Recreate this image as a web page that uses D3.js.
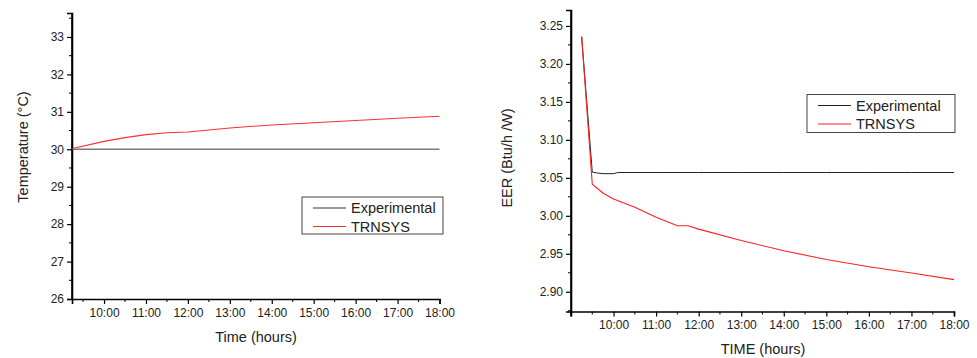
<!DOCTYPE html>
<html>
<head>
<meta charset="utf-8">
<script src="https://cdn.jsdelivr.net/npm/d3@7"></script>
<style>
  body { margin: 0; background: #fff; }
  svg text { font-family: "Liberation Sans", Arial, sans-serif; fill: #222; }
</style>
</head>
<body>
<svg id="chart" width="977" height="358"></svg>
<script>
// ---- left chart: temperature ----
const tempTimes = [9.25, 10, 10.5, 11, 11.5, 12, 13, 14, 15, 16, 17, 18];
const tempExperimental = [30, 30, 30, 30, 30, 30, 30, 30, 30, 30, 30, 30];
const tempTrnsys = [30.02, 30.21, 30.31, 30.39, 30.44, 30.46, 30.57, 30.65, 30.71, 30.77, 30.83, 30.88];
const tempTicks = [26, 27, 28, 29, 30, 31, 32, 33];

// ---- right chart: EER ----
const eerTimesExp = [9.25, 9.5, 9.6, 9.75, 10, 10.1, 11, 12, 13, 14, 15, 16, 17, 18];
const eerExperimental = [3.236, 3.0575, 3.0565, 3.0555, 3.0555, 3.057, 3.057, 3.057, 3.057, 3.057, 3.057, 3.057, 3.057, 3.057];
const eerTimesTrn = [9.25, 9.5, 9.75, 10, 10.5, 11, 11.5, 11.75, 12, 13, 14, 15, 16, 17, 18];
const eerTrnsys = [3.236, 3.0417, 3.030, 3.022, 3.0114, 2.998, 2.987, 2.987, 2.9825, 2.9675, 2.954, 2.9425, 2.933, 2.9246, 2.916];
const eerTicks = [2.90, 2.95, 3.00, 3.05, 3.10, 3.15, 3.20, 3.25];

const hourTicks = [10, 11, 12, 13, 14, 15, 16, 17, 18];
const seriesNames = ["Experimental", "TRNSYS"];

const svg = d3.select("#chart");

function fmtHour(h) {
  return String(Math.round(h)).padStart(2, "0") + ":00";
}

function drawPanel(opt) {
  const g = svg.append("g");
  const x = d3.scaleLinear().domain(opt.xDomain).range([opt.left, opt.right]);
  const y = d3.scaleLinear().domain(opt.yDomain).range([opt.bottom, opt.top]);

  // minor ticks
  const xMinor = d3.range(Math.ceil(opt.xDomain[0] * 2) / 2, opt.xDomain[1] + 0.01, 0.5)
    .filter(v => !hourTicks.includes(v));
  g.append("g").selectAll("line").data(xMinor).enter().append("line")
    .attr("x1", d => x(d)).attr("x2", d => x(d))
    .attr("y1", opt.bottom).attr("y2", opt.bottom + 3)
    .attr("stroke", "#000").attr("stroke-width", 1);
  g.append("g").selectAll("line").data(opt.yMinor).enter().append("line")
    .attr("x1", opt.left).attr("x2", opt.left - 3)
    .attr("y1", d => y(d)).attr("y2", d => y(d))
    .attr("stroke", "#000").attr("stroke-width", 1);

  const xAxis = g.append("g")
    .attr("transform", `translate(0,${opt.bottom})`)
    .call(d3.axisBottom(x).tickValues(hourTicks).tickFormat(fmtHour).tickSizeOuter(0).tickSize(5).tickPadding(4));
  const yAxis = g.append("g")
    .attr("transform", `translate(${opt.left},0)`)
    .call(d3.axisLeft(y).tickValues(opt.yTicks).tickFormat(opt.yFormat).tickSizeOuter(0).tickSize(5).tickPadding(3));

  [xAxis, yAxis].forEach(a => {
    a.select(".domain").attr("stroke", "#000").attr("stroke-width", 1.6);
    a.selectAll(".tick line").attr("stroke", "#000").attr("stroke-width", 1.2);
    a.selectAll(".tick text").style("font-size", "12px").attr("fill", "#222");
  });
  // extend y domain line down to meet x axis
  g.append("line").attr("x1", opt.left).attr("x2", opt.left)
    .attr("y1", opt.top).attr("y2", opt.bottom + (opt.xStartTick ? 5 : 0))
    .attr("stroke", "#000").attr("stroke-width", 1.6);

  const line = d3.line().x(d => x(d[0])).y(d => y(d[1]));
  opt.series.forEach(s => {
    g.append("path")
      .datum(d3.zip(s.times, s.values))
      .attr("d", line)
      .attr("fill", "none")
      .attr("stroke", s.color)
      .attr("stroke-width", s.width);
  });

  // axis titles
  g.append("text")
    .attr("x", opt.xTitleX).attr("y", opt.xTitleY)
    .attr("text-anchor", "middle")
    .style("font-size", "14.5px")
    .text(opt.xTitle);
  g.append("text")
    .attr("transform", `translate(${opt.yTitleX},${opt.yTitleY}) rotate(-90)`)
    .attr("text-anchor", "middle")
    .style("font-size", "14.5px")
    .text(opt.yTitle);

  // legend
  const lg = g.append("g");
  lg.append("rect")
    .attr("x", opt.legend.x).attr("y", opt.legend.y)
    .attr("width", opt.legend.w).attr("height", opt.legend.h)
    .attr("fill", "#fff").attr("stroke", "#444").attr("stroke-width", 1);
  opt.series.forEach((s, i) => {
    const ry = opt.legend.y + 11 + i * 18.5;
    lg.append("line")
      .attr("x1", opt.legend.x + 11).attr("x2", opt.legend.x + 44)
      .attr("y1", ry).attr("y2", ry)
      .attr("stroke", s.color).attr("stroke-width", s.width);
    lg.append("text")
      .attr("x", opt.legend.x + 49).attr("y", ry + 5)
      .style("font-size", "14.5px")
      .text(seriesNames[i]);
  });
}

drawPanel({
  left: 72, right: 439.5, top: 13, bottom: 299,
  xDomain: [9.236, 18], yDomain: [26, 33.64],
  yTicks: tempTicks, yMinor: d3.range(26.5, 33.6, 1),
  yFormat: d3.format("d"),
  series: [
    { times: tempTimes, values: tempExperimental, color: "#7a7a7a", width: 1.5 },
    { times: tempTimes, values: tempTrnsys, color: "#ff3030", width: 1.1 }
  ],
  xTitle: "Time (hours)", xTitleX: 256, xTitleY: 342,
  yTitle: "Temperature (°C)", yTitleX: 28, yTitleY: 147,
  legend: { x: 302, y: 197, w: 141, h: 37 }
});

drawPanel({
  left: 571, right: 954, top: 10, bottom: 311.5,
  xDomain: [9, 18], yDomain: [2.874, 3.271],
  yTicks: eerTicks, yMinor: d3.range(2.875, 3.27, 0.05),
  yFormat: d3.format(".2f"),
  xStartTick: true,
  series: [
    { times: eerTimesExp, values: eerExperimental, color: "#222", width: 1 },
    { times: eerTimesTrn, values: eerTrnsys, color: "#ff2020", width: 1.1 }
  ],
  xTitle: "TIME (hours)", xTitleX: 763, xTitleY: 354,
  yTitle: "EER (Btu/h /W)", yTitleX: 512, yTitleY: 158,
  legend: { x: 807, y: 94.5, w: 148, h: 38 }
});
</script>
</body>
</html>
